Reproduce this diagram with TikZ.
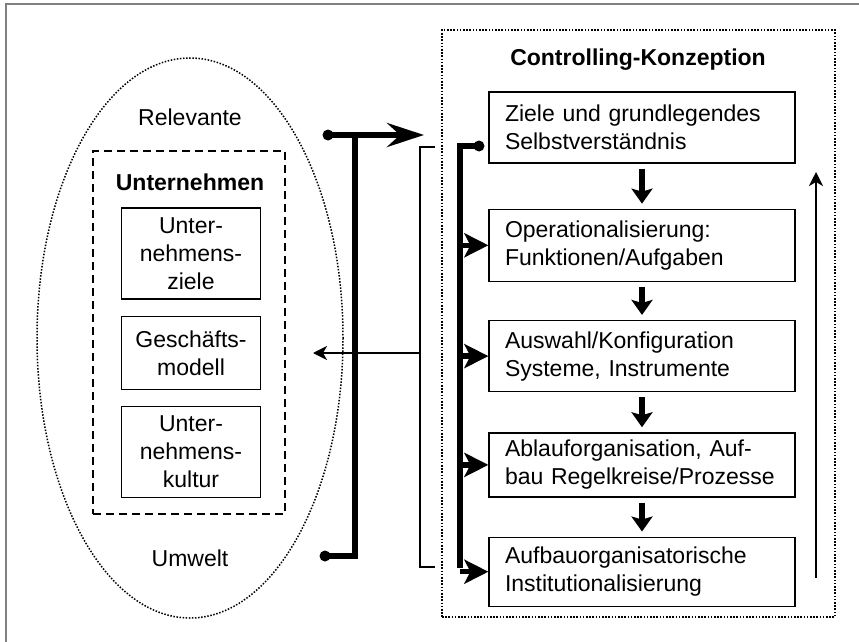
\documentclass[tikz,border=0pt]{standalone}
\usepackage{fontspec}
\setmainfont{Liberation Sans}
\usetikzlibrary{positioning,arrows.meta}

\tikzset{
    stage/.style={draw, line width=1.3pt, text width=274pt, inner xsep=16pt,
        minimum height=71pt, align=left},
    part/.style={draw, line width=1.3pt, minimum width=139pt, align=center},
    dashbox/.style={draw, line width=1.4pt, dash pattern=on 8pt off 5pt,
        minimum width=192pt, minimum height=363pt},
    dotbox/.style={draw, line width=1.6pt, dash pattern=on 1.6pt off 1.6pt,
        minimum width=393pt, minimum height=587pt},
    bus/.style={line width=5.5pt},
    feed/.style={line width=5.5pt, -{Stealth[length=37pt, width=24pt, inset=13pt]}},
    flow/.style={line width=5.5pt, -{Stealth[length=15pt, width=21pt, inset=3pt]},
        shorten <=5pt, shorten >=5pt},
    branch/.style={line width=5.5pt, -{Stealth[length=24pt, width=24pt, inset=6pt]}},
    link/.style={line width=2pt},
    back/.style={line width=2.5pt, -{Stealth[length=14pt, width=14pt, inset=4pt]}},
}

\begin{document}
\begin{tikzpicture}[x=1pt, y=-1pt, font=\fontsize{23}{28}\selectfont]
    \useasboundingbox (0,0) rectangle (859,642);
    \draw[gray, line width=1.2pt] (859,4) -- (6,4) -- (6,642);

    \draw[line width=1.5pt, dash pattern=on 1.5pt off 1.6pt]
        (190,338) ellipse [x radius=153, y radius=280];
    \node (relevanteL) at (190,117) {Relevante};
    \node (umweltL) at (190,558) {Umwelt};

    \node[dashbox] (unternehmenG) at (189,332.5) {};
    \node (unternehmenL) at (190,182) {\bfseries Unternehmen};
    \node[part, minimum height=91pt] (zieleU) at (191,253.5) {Unter-\\nehmens-\\ziele};
    \node[part, minimum height=73pt, below = 16pt of zieleU] (modellU) {Geschäfts-\\modell};
    \node[part, minimum height=91pt, below = 16pt of modellU] (kulturU) {Unter-\\nehmens-\\kultur};

    \node[dotbox] (konzeptionG) at (638.5,323.5) {};
    \node (konzeptionL) at (638,60) {\bfseries Controlling-Konzeption};
    \node[stage] (zieleC) at (642,127.5) {Ziele und grundlegendes\\Selbstverständnis};
    \node[stage, minimum height=72pt, below = 45pt of zieleC] (operationC) {Operationalisierung:\\Funktionen/Aufgaben};
    \node[stage, below = 38pt of operationC] (auswahlC) {Auswahl/Konfiguration\\Systeme, Instrumente};
    \node[stage, minimum height=64pt, below = 40pt of auswahlC] (ablaufC) {Ablauforganisation, Auf-\\bau Regelkreise/Prozesse};
    \node[stage, minimum height=69pt, below = 39pt of ablaufC] (aufbauC) {Aufbauorganisatorische\\Institutionalisierung};

    \draw[flow] (zieleC) -- (operationC);
    \draw[flow] (operationC) -- (auswahlC);
    \draw[flow] (auswahlC) -- (ablaufC);
    \draw[flow] (ablaufC) -- (aufbauC);

    \coordinate (relevanteD) at (328,135);
    \coordinate (feedT) at (424,135);
    \coordinate (feedB) at (355,135);
    \coordinate (umweltD) at (325,556);
    \draw[feed] (relevanteD) -- (feedT);
    \draw[bus] (feedB) |- (umweltD);
    \fill (relevanteD) circle (5.5pt);
    \fill (umweltD) circle (5.5pt);

    \coordinate (linkT) at (435,147);
    \coordinate (linkB) at (435,567);
    \coordinate (linkM) at (420,353);
    \coordinate (modellA) at (313,353);
    \draw[link] (linkT) -- ++(-15,0) |- (linkB);
    \draw[back, line width=2pt] (linkM) -- (modellA);

    \coordinate (zieleD) at (479,146);
    \coordinate (busE) at (460,568);
    \draw[bus] (zieleD) -| (busE);
    \fill (zieleD) circle (5.5pt);
    \foreach \n in {operationC, auswahlC, ablaufC, aufbauC}
        \draw[branch] (busE |- \n.west) -- (\n.west);

    \coordinate (backB) at (816,578);
    \coordinate (backT) at (816,172);
    \draw[back] (backB) -- (backT);
\end{tikzpicture}
\end{document}
